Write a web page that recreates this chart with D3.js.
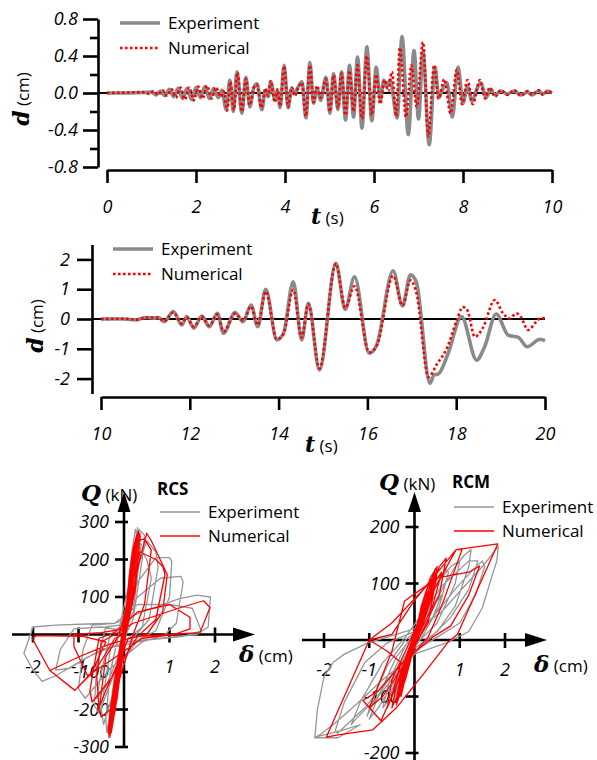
<!DOCTYPE html>
<html>
<head>
<meta charset="utf-8">
<script src="https://cdn.jsdelivr.net/npm/d3@7"></script>
<style>
  body { margin: 0; background: #fff; }
  svg { display: block; }
</style>
</head>
<body>
<svg id="chart" width="597" height="760"></svg>
<script>
// ---------- displacement histories, 0–10 s ----------
const topExperiment = [
  [0,0],[0.4,0],[0.8,0.005],[1.0,0.01],[1.1,-0.02],[1.2,0.02],[1.3,-0.03],[1.4,0.04],[1.5,-0.04],
  [1.6,0.05],[1.7,-0.06],[1.8,0.05],[1.9,-0.07],[2.0,0.06],[2.1,-0.05],[2.2,0.07],[2.3,-0.06],
  [2.4,0.05],[2.5,-0.05],[2.58,0.03],[2.68,-0.18],[2.76,0.14],[2.84,-0.20],[2.92,0.23],[3.03,-0.22],
  [3.12,0.17],[3.21,-0.15],[3.29,0.04],[3.37,0.10],[3.48,-0.18],[3.56,0.03],[3.62,-0.04],[3.68,0.12],
  [3.78,-0.08],[3.83,0.03],[3.89,-0.16],[3.98,0.30],[4.07,-0.16],[4.15,0.05],[4.21,-0.01],[4.28,0.05],
  [4.38,0.12],[4.47,-0.27],[4.56,0.33],[4.64,-0.11],[4.72,0.05],[4.80,-0.08],[4.92,0.17],[5.01,-0.22],
  [5.09,0.21],[5.19,-0.18],[5.27,0.23],[5.36,-0.29],[5.45,0.30],[5.54,-0.26],[5.63,0.39],[5.73,-0.38],
  [5.84,0.50],[5.95,-0.30],[6.05,0.28],[6.14,-0.08],[6.22,0.14],[6.28,0.07],[6.36,0.14],[6.52,-0.27],
  [6.63,0.61],[6.77,-0.45],[6.90,0.46],[7.00,-0.28],[7.10,0.45],[7.24,-0.56],[7.37,0.28],[7.46,-0.05],
  [7.55,0.05],[7.64,0.11],[7.76,-0.26],[7.89,0.28],[8.0,-0.11],[8.1,0.07],[8.2,-0.09],[8.3,0.03],
  [8.4,0.11],[8.52,-0.05],[8.62,0.04],[8.72,-0.02],[8.85,0.02],[9.0,-0.01],[9.15,0.02],[9.3,-0.02],
  [9.45,0.01],[9.55,-0.02],[9.7,0.02],[9.8,-0.01],[9.9,0.02],[10,0]
];
const topNumerical = [
  [0,0],[0.4,0.005],[0.8,0.01],[0.95,-0.01],[1.05,0.02],[1.15,-0.02],[1.25,0.03],[1.35,-0.03],
  [1.45,0.04],[1.55,-0.05],[1.65,0.06],[1.75,-0.07],[1.85,0.06],[1.95,-0.08],[2.05,0.07],[2.15,-0.06],
  [2.25,0.08],[2.35,-0.06],[2.45,0.06],[2.55,-0.04],[2.62,0.02],[2.70,-0.19],[2.77,0.12],[2.85,-0.18],
  [2.93,0.22],[3.03,-0.20],[3.12,0.15],[3.21,-0.13],[3.30,0.06],[3.37,0.09],[3.47,-0.16],[3.56,0.05],
  [3.62,-0.03],[3.68,0.13],[3.77,-0.10],[3.83,0.04],[3.89,-0.14],[3.98,0.29],[4.07,-0.15],[4.15,0.06],
  [4.22,-0.03],[4.30,0.06],[4.38,0.11],[4.47,-0.25],[4.56,0.30],[4.64,-0.10],[4.72,0.08],[4.80,-0.05],
  [4.92,0.15],[5.01,-0.20],[5.09,0.19],[5.19,-0.16],[5.27,0.21],[5.36,-0.24],[5.45,0.24],[5.54,-0.20],
  [5.63,0.30],[5.73,-0.28],[5.84,0.40],[5.95,-0.24],[6.05,0.20],[6.14,-0.12],[6.24,0.14],[6.32,0.02],
  [6.40,0.23],[6.50,-0.25],[6.58,0.49],[6.72,-0.26],[6.84,0.30],[6.96,-0.15],[7.10,0.55],[7.22,-0.47],
  [7.35,0.30],[7.45,-0.06],[7.58,0.15],[7.72,-0.22],[7.86,0.25],[7.98,-0.12],[8.1,0.14],[8.22,-0.12],
  [8.38,0.14],[8.5,-0.06],[8.6,0.06],[8.72,-0.04],[8.85,0.03],[9.0,-0.02],[9.15,0.03],[9.3,-0.03],
  [9.45,0.02],[9.55,-0.02],[9.7,0.03],[9.8,-0.02],[9.9,0.02],[10,0.0]
];
const topTicksY = [-0.8, -0.4, 0, 0.4, 0.8];
const topMinorY = [-0.6, -0.2, 0.2, 0.6];
const topTicksX = [0, 2, 4, 6, 8, 10];

// ---------- displacement histories, 10–20 s ----------
const midExperiment = [
  [10,0],[10.5,0.0],[10.8,-0.03],[11.0,0.05],[11.2,0.03],[11.3,0.05],[11.42,-0.09],[11.63,0.25],
  [11.82,-0.2],[11.93,0.08],[12.09,-0.31],[12.27,0.1],[12.44,-0.26],[12.62,0.19],[12.76,-0.48],
  [13.02,0.22],[13.2,-0.09],[13.38,0.47],[13.53,-0.26],[13.71,1.0],[13.96,-0.7],[14.11,-0.48],
  [14.33,1.25],[14.52,-0.7],[14.67,0.53],[14.92,-1.71],[15.29,1.87],[15.5,0.32],[15.71,1.42],
  [16.04,-1.15],[16.21,-0.87],[16.58,1.62],[16.79,0.44],[16.97,1.48],[17.1,1.25],[17.41,-2.16],
  [17.5,-1.88],[17.6,-1.84],[17.82,-1.15],[18.12,0.08],[18.46,-1.38],[18.64,-0.93],[18.9,0.17],
  [19.17,-0.54],[19.4,-0.62],[19.6,-0.93],[19.89,-0.68],[20,-0.73]
];
const midNumerical = [
  [10,0],[10.5,0.01],[10.8,-0.02],[11.0,0.04],[11.2,0.05],[11.3,0.04],[11.42,-0.08],[11.63,0.22],
  [11.82,-0.15],[11.93,0.06],[12.09,-0.26],[12.27,0.08],[12.44,-0.22],[12.62,0.16],[12.76,-0.42],
  [13.02,0.18],[13.2,-0.05],[13.38,0.42],[13.53,-0.2],[13.71,0.92],[13.96,-0.68],[14.11,-0.5],
  [14.33,0.98],[14.52,-0.62],[14.67,0.5],[14.92,-1.66],[15.29,1.85],[15.5,0.38],[15.71,1.1],
  [16.04,-1.12],[16.21,-0.9],[16.58,1.45],[16.79,0.45],[16.97,1.3],[17.1,0.9],[17.38,-1.95],
  [17.55,-1.55],[17.8,-0.95],[18.0,-0.1],[18.15,0.4],[18.25,0.3],[18.42,-0.6],[18.6,-0.3],
  [18.87,0.64],[19.05,0.2],[19.2,0.02],[19.36,0.19],[19.45,0.08],[19.62,-0.37],[19.8,-0.1],
  [19.9,0.03],[20,0.02]
];
const midTicksY = [-2, -1, 0, 1, 2];
const midTicksX = [10, 12, 14, 16, 18, 20];

// ---------- force–drift loops, RCS specimen ----------
const rcsExperiment = [
  [0,0],[0.03,20],[-0.03,-25],[0.06,50],[-0.06,-55],[0.1,90],[-0.08,-80],[0.14,130],[-0.12,-120],
  [0.18,170],[0.1,60],[-0.15,-150],[-0.1,-70],[0.22,210],[0.15,100],[-0.2,-190],[-0.12,-80],
  [0.27,260],[0.3,285],[0.25,190],[0.05,10],[-0.2,-160],[-0.3,-250],[-0.34,-275],[-0.28,-190],[-0.05,-10],
  [0.2,170],[0.33,280],[0.45,265],[0.4,200],[0.2,40],[0,-10],[-0.25,-180],[-0.38,-260],[-0.4,-225],[-0.3,-100],[-0.1,10],
  [0.25,160],[0.5,250],[0.7,220],[0.75,180],[0.55,40],[0.2,-10],[-0.3,-180],[-0.45,-240],[-0.5,-200],[-0.3,-40],[0,20],
  [0.3,140],[0.7,205],[1.0,205],[1.05,195],[1.0,100],[0.7,10],[0.3,-15],[-0.2,-100],[-0.55,-210],[-0.65,-190],[-0.6,-80],[-0.4,20],[-0.1,25],
  [0.3,100],[0.8,150],[1.25,155],[1.3,140],[1.15,30],[0.9,0],[0.4,-20],[-0.3,-90],[-0.85,-170],[-1.0,-145],[-0.9,-40],[-0.7,25],[-0.2,30],
  [0.4,60],[1.2,95],[1.6,105],[1.9,100],[1.85,20],[1.6,0],[0.8,-10],[0,-20],[-0.8,-60],[-1.5,-110],[-1.8,-125],[-2.0,-95],[-2.2,-50],[-2.0,20],[-1.5,25],[-0.8,28],[-0.2,30],
  [0.3,80],[1.0,80],[1.5,70],[1.7,10],[1.3,-5],[0.5,-15],[-0.5,-40],[-1.2,-90],[-1.5,-95],[-1.4,-40],[-1.1,15],[-0.5,20],[0,10],
  [0.2,100],[0.35,230],[0.25,280],[0.15,200],[0,0],[-0.2,-200],[-0.3,-260],[-0.25,-180],[0,0],
  [0.15,150],[0.28,250],[0.36,262],[0.3,180],[0.1,30],[-0.15,-130],[-0.32,-240],[-0.36,-255],[-0.22,-120],[-0.02,10],
  [0.2,190],[0.3,240],[0.5,200],[0.6,150],[0.4,20],[0,-20],[-0.4,-140],[-0.6,-170],[-0.5,-100],[-0.3,0],[-0.1,20],
  [0.12,140],[0.24,230],[0.18,130],[-0.02,-20],[-0.18,-170],[-0.3,-225],[-0.2,-110],[0.05,40],[0.3,250],[0.38,240],[0.2,60],[0,0]
];
const rcsNumerical = [
  [0,0],[0.05,40],[-0.05,-45],[0.1,100],[-0.1,-100],[0.15,150],[0.1,60],[-0.15,-150],[-0.1,-60],
  [0.2,200],[0.25,250],[0.2,150],[0,0],[-0.2,-190],[-0.25,-240],[-0.2,-140],[0.05,40],
  [0.3,270],[0.35,265],[0.25,120],[0,-20],[-0.28,-230],[-0.31,-274],[-0.27,-180],[0,20],
  [0.3,250],[0.45,255],[0.6,225],[0.45,80],[0.2,0],[-0.3,-200],[-0.5,-220],[-0.55,-203],[-0.4,-60],[-0.1,0],
  [0.35,220],[0.7,200],[0.86,180],[0.9,160],[0.7,40],[0.3,-5],[-0.3,-120],[-0.7,-180],[-0.75,-150],[-0.55,-10],[-0.2,5],
  [0.3,60],[1.0,80],[1.45,46],[1.45,15],[1.1,0],[0.4,-10],[-0.3,-70],[-0.8,-110],[-1.1,-32],[-1.1,0],[-0.5,5],[0,15],
  [0.35,200],[0.5,270],[0.6,250],[0.95,160],[0.85,60],[0.5,0],[0.1,-10],[-0.4,-150],[-0.55,-195],[-0.6,-110],[-0.5,-20],[-0.2,0],
  [0.2,30],[1.2,70],[1.75,90],[1.89,72],[1.67,5],[1.0,0],[0.3,-5],[-0.3,-25],[-1.0,-60],[-1.63,-96],[-1.08,-149],[-0.7,-100],[-0.4,-20],
  [-0.9,-5],[-1.92,-3],[-2.02,-10],[-1.63,-96],[-1.08,-149],[-0.6,-90],[-0.2,-10],[0,0],
  [0.12,160],[0.2,230],[0.28,265],[0.22,180],[0.05,30],[-0.1,-110],[-0.22,-210],[-0.27,-250],[-0.2,-160],[0,10],
  [0.15,180],[0.25,240],[0.18,150],[-0.05,-40],[-0.18,-190],[-0.28,-262],[-0.22,-170],[0.02,20],
  [0.2,220],[0.32,275],[0.26,200],[0.08,40],[-0.12,-140],[-0.25,-230],[-0.3,-265],[-0.24,-170],[-0.02,0],
  [0.1,120],[0.22,235],[0.3,262],[0.2,140],[0,-10],[-0.15,-170],[-0.3,-250],[-0.33,-268],[-0.2,-120],
  [0.05,50],[0.18,200],[0.28,258],[0.35,270],[0.22,120],[0.02,-5],[-0.2,-200],[-0.35,-262],[-0.3,-200],[-0.1,-40],
  [0.1,110],[0.25,250],[0.15,150],[-0.1,-100],[-0.25,-220],[-0.15,-120],[0.08,80],[0.23,245],[0.12,100],
  [-0.08,-90],[-0.22,-215],[-0.1,-60],[0,0]
];
const rcsTicksX = [-2, -1, 1, 2];
const rcsTicksY = [-300, -200, -100, 100, 200, 300];

// ---------- force–drift loops, RCM specimen ----------
const rcmExperiment = [
  [0,0],[0.1,20],[-0.1,-25],[0.2,45],[-0.2,-50],[0.3,70],[0.2,40],[-0.3,-75],[-0.2,-40],
  [0.4,95],[0.5,110],[0.35,60],[0,5],[-0.35,-85],[-0.45,-105],[-0.3,-50],[0,10],
  [0.5,100],[0.7,125],[0.75,120],[0.55,60],[0.2,10],[-0.3,-50],[-0.6,-110],[-0.7,-120],[-0.55,-70],[-0.2,-10],
  [0.4,60],[0.9,130],[1.1,150],[1.25,160],[1.2,130],[0.9,60],[0.5,15],[0,-15],[-0.5,-60],[-0.9,-110],[-1.05,-135],[-0.95,-110],[-0.6,-45],[-0.2,0],
  [0.4,40],[0.9,90],[1.3,125],[1.5,140],[1.55,130],[1.35,80],[1.0,30],[0.5,5],[0,-20],[-0.6,-70],[-1.1,-120],[-1.5,-150],[-1.7,-165],[-1.75,-160],[-1.55,-110],[-1.1,-40],[-0.6,-5],[0,15],
  [0.6,50],[1.1,95],[1.5,130],[1.7,150],[1.85,166],[1.82,140],[1.7,110],[1.5,57],[1.2,15],[0.7,-5],[0,-25],[-0.7,-70],[-1.3,-115],[-1.8,-150],[-2.1,-168],[-2.21,-173],[-1.69,-173],[-1.2,-150],
  [-1.6,-160],[-2.2,-172],[-2.15,-125],[-2.0,-65],[-1.8,-40],[-1.55,-25],[-1.03,-5],[-0.44,9],[0,20],
  [0.3,50],[0.6,80],[0.4,40],[0,0],[-0.3,-60],[-0.5,-90],[-0.3,-40],[0,0],
  [0.2,50],[0.5,100],[0.8,130],[1.0,140],[0.9,100],[0.5,30],[0,-10],[-0.5,-80],[-0.8,-120],[-1.0,-140],[-0.8,-100],[-0.4,-30],[0,10],
  [0.3,60],[0.6,95],[1.2,140],[1.4,140],[1.2,90],[0.8,40],[0.3,0],[-0.2,-40],[-0.8,-100],[-1.3,-140],[-1.4,-150],[-1.2,-110],[-0.7,-40],[-0.2,5],
  [0.2,50],[0.4,80],[0.2,30],[-0.1,-30],[-0.35,-80],[-0.2,-40],[0.1,30],[0.35,85],[0.25,50],[0,0],[-0.25,-65],[-0.4,-95],[-0.25,-45],[0,0]
];
const rcmNumerical = [
  [0,0],[0.1,30],[-0.1,-30],[0.2,55],[-0.2,-55],[0.3,85],[0.2,40],[-0.3,-90],[-0.2,-45],
  [0.4,110],[0.45,125],[0.3,60],[0,0],[-0.35,-100],[-0.4,-115],[-0.25,-45],[0.05,20],
  [0.55,130],[0.7,145],[0.55,80],[0.2,20],[-0.3,-60],[-0.6,-120],[-0.5,-70],[-0.2,-20],
  [0.3,70],[0.92,160],[1.05,160],[0.6,60],[0.3,5],[-0.2,-40],[-0.7,-100],[-1.0,-120],[-0.75,-70],[-0.5,-20],[-0.22,69],
  [0.5,110],[1.2,120],[1.44,131],[1.2,80],[0.8,25],[0.4,5],[-0.2,-35],[-0.8,-90],[-1.14,-107],[-0.74,-143],[-0.5,-100],[-0.3,-40],
  [-0.6,-20],[-1.0,0],[-0.5,10],[0.0,70],[0.92,160],[1.84,170],[0.95,10],[0.73,-5],[0.2,-60],[-0.4,-120],[-0.92,-159],
  [-1.69,-168],[-1.95,-172],[-1.0,0],[-0.5,30],[0.2,90],
  [0.5,120],[0.3,30],[0,-10],[-0.3,-80],[-0.4,-110],[-0.2,-40],[0,0],
  [0.15,60],[0.35,110],[0.5,130],[0.4,80],[0.1,10],[-0.15,-50],[-0.3,-90],[-0.4,-105],[-0.3,-60],[-0.05,0],
  [0.2,60],[0.4,105],[0.3,65],[0,0],[-0.25,-80],[-0.35,-95],[-0.2,-40],[0.1,40],[0.3,95],[0.45,120],[0.35,70],
  [0.05,5],[-0.2,-70],[-0.38,-110],[-0.25,-55],[0,10],[0.25,80],[0.6,120],[0.4,60],[0,-5],[-0.3,-85],[-0.5,-120],
  [-0.4,-80],[-0.1,-10],[0.2,50],[0.35,100],[0.25,55],[-0.05,-15],[-0.3,-100],[-0.2,-50],[0,0]
];
const rcmTicksX = [-2, -1, 1, 2];
const rcmTicksY = [-200, -100, 100, 200];

const seriesNames = ["Experiment", "Numerical"];

// ---------- styling ----------
const SANS = '"Open Sans", "Noto Sans", sans-serif';
const SERIF = '"DejaVu Serif", serif';
const GRAY = "#8a8a8a";
const LOOP_GRAY = "#969696";
const RED = "#ff0000";
const AXIS_W = 2.6;
const TICK_FONT = 18;

const svg = d3.select("#chart");

function styleAxis(g) {
  g.selectAll("path.domain").attr("stroke", "#000").attr("stroke-width", AXIS_W);
  g.selectAll(".tick line").attr("stroke", "#000").attr("stroke-width", AXIS_W);
  g.selectAll(".tick text")
    .attr("fill", "#000")
    .style("font-family", SANS)
    .style("font-style", "italic")
    .style("font-size", TICK_FONT + "px");
}

// composite label: bold italic serif symbol followed by the unit in sans
function symbolLabel(g, x, y, sym, unit, symSize, unitSize, rotate) {
  const t = g.append("text")
    .attr("text-anchor", rotate ? "middle" : "start")
    .attr("transform", rotate ? `translate(${x},${y}) rotate(-90)` : `translate(${x},${y})`);
  t.append("tspan").text(sym)
    .style("font-family", SERIF).style("font-weight", "bold").style("font-style", "italic")
    .style("font-size", symSize + "px");
  t.append("tspan").text(" " + unit)
    .style("font-family", SANS).style("font-size", unitSize + "px");
  return t;
}

function timePanel(cfg) {
  const g = svg.append("g");
  const x = d3.scaleLinear().domain(cfg.xDomain).range(cfg.xRange);
  const y = d3.scaleLinear().domain(cfg.yDomain).range(cfg.yRange);

  // y axis (major + optional minor ticks)
  const ya = g.append("g").attr("transform", `translate(${cfg.yAxisX},0)`)
    .call(d3.axisLeft(y).tickValues(cfg.yTicks).tickSize(15).tickSizeOuter(0)
      .tickPadding(cfg.yPad).tickFormat(cfg.yFormat));
  styleAxis(ya);
  if (cfg.yMinor) {
    const ym = g.append("g").attr("transform", `translate(${cfg.yAxisX},0)`)
      .call(d3.axisLeft(y).tickValues(cfg.yMinor).tickSize(8).tickSizeOuter(0).tickFormat(""));
    styleAxis(ym);
    ym.select("path.domain").remove();
  }

  // detached x axis below
  const xa = g.append("g").attr("transform", `translate(0,${cfg.xAxisY})`)
    .call(d3.axisBottom(x).tickValues(cfg.xTicks).tickSize(13).tickSizeOuter(0).tickPadding(17));
  styleAxis(xa);

  // zero reference line
  g.append("line")
    .attr("x1", cfg.yAxisX).attr("x2", x(cfg.xDomain[1]))
    .attr("y1", y(0)).attr("y2", y(0))
    .attr("stroke", "#000").attr("stroke-width", 2.2);

  const line = d3.line().x(d => x(d[0])).y(d => y(d[1])).curve(d3.curveMonotoneX);
  g.append("path").datum(cfg.exp).attr("d", line)
    .attr("fill", "none").attr("stroke", GRAY).attr("stroke-width", 3.6)
    .attr("stroke-linejoin", "round");
  g.append("path").datum(cfg.num).attr("d", line)
    .attr("fill", "none").attr("stroke", RED).attr("stroke-width", 2.6)
    .attr("stroke-dasharray", "2.6 2.4");

  // legend
  seriesNames.forEach((name, i) => {
    const ly = cfg.legendY + i * 25;
    g.append("line").attr("x1", cfg.legendX).attr("x2", cfg.legendX + 40)
      .attr("y1", ly).attr("y2", ly)
      .attr("stroke", i === 0 ? GRAY : RED)
      .attr("stroke-width", i === 0 ? 3.4 : 2.6)
      .attr("stroke-dasharray", i === 0 ? null : "2.6 2.4");
    g.append("text").attr("x", cfg.legendX + 48).attr("y", ly + 6)
      .text(name).style("font-family", SANS).style("font-size", "17px");
  });

  symbolLabel(g, cfg.yLabel[0], cfg.yLabel[1], "d", "(cm)", 22, 17, true);
  symbolLabel(g, cfg.xLabel[0], cfg.xLabel[1], "t", "(s)", 22, 17, false);
}

timePanel({
  xDomain: [0, 10], xRange: [107, 552],
  yDomain: [-0.8, 0.8], yRange: [167, 19],
  yAxisX: 98, xAxisY: 170,
  yTicks: topTicksY, yMinor: topMinorY, yPad: 5, yFormat: d => d.toFixed(1),
  xTicks: topTicksX,
  exp: topExperiment, num: topNumerical,
  legendX: 120, legendY: 23,
  yLabel: [29, 99], xLabel: [311, 224]
});

timePanel({
  xDomain: [10, 20], xRange: [101, 545],
  yDomain: [-2.5, 2.5], yRange: [393.5, 244.5],
  yAxisX: 92, xAxisY: 397,
  yTicks: midTicksY, yMinor: null, yPad: 7, yFormat: d => String(d),
  xTicks: midTicksX,
  exp: midExperiment, num: midNumerical,
  legendX: 113, legendY: 249,
  yLabel: [43, 326], xLabel: [305, 452]
});

function loopPanel(cfg) {
  const g = svg.append("g");
  const x = d3.scaleLinear().domain([-2, 2]).range(cfg.xRange);
  const y = d3.scaleLinear().domain(cfg.yDomain).range(cfg.yRange);
  const ox = x(0), oy = y(0);

  // tick labels first, so the loops pass over them
  g.selectAll("text.ylab").data(cfg.yTicks).join("text")
    .attr("x", ox - 15).attr("y", d => y(d)).attr("dy", "0.35em")
    .attr("text-anchor", "end").text(d => String(d))
    .style("font-family", SANS).style("font-style", "italic").style("font-size", TICK_FONT + "px");
  g.selectAll("text.xlab").data(cfg.xTicks).join("text")
    .attr("x", d => x(d)).attr("y", oy + cfg.xLabDy)
    .attr("text-anchor", "middle").text(d => String(d))
    .style("font-family", SANS).style("font-style", "italic").style("font-size", TICK_FONT + "px");

  // axes with arrow heads
  g.append("line").attr("x1", cfg.hAxis[0]).attr("x2", cfg.hAxis[1] - 18)
    .attr("y1", oy).attr("y2", oy).attr("stroke", "#000").attr("stroke-width", AXIS_W);
  g.append("path")
    .attr("d", `M${cfg.hAxis[1]},${oy} L${cfg.hAxis[1] - 22},${oy - 7} L${cfg.hAxis[1] - 22},${oy + 7} Z`)
    .attr("fill", "#000");
  g.append("line").attr("x1", ox).attr("x2", ox)
    .attr("y1", cfg.vAxis[0]).attr("y2", cfg.vAxis[1] + 16)
    .attr("stroke", "#000").attr("stroke-width", AXIS_W);
  g.append("path")
    .attr("d", `M${ox},${cfg.vAxis[1]} L${ox - 6.5},${cfg.vAxis[1] + 20} L${ox + 6.5},${cfg.vAxis[1] + 20} Z`)
    .attr("fill", "#000");
  g.selectAll("line.yt").data(cfg.yTicks).join("line")
    .attr("x1", ox - 9).attr("x2", ox + 4).attr("y1", d => y(d)).attr("y2", d => y(d))
    .attr("stroke", "#000").attr("stroke-width", AXIS_W);
  g.selectAll("line.xt").data(cfg.xTicks).join("line")
    .attr("x1", d => x(d)).attr("x2", d => x(d)).attr("y1", oy - 7).attr("y2", oy + 8)
    .attr("stroke", "#000").attr("stroke-width", AXIS_W);

  // hysteresis loops
  const line = d3.line().x(d => x(d[0])).y(d => y(d[1]));
  g.append("path").datum(cfg.exp).attr("d", line)
    .attr("fill", "none").attr("stroke", LOOP_GRAY).attr("stroke-width", 1.3)
    .attr("stroke-linejoin", "round");
  g.append("path").datum(cfg.num).attr("d", line)
    .attr("fill", "none").attr("stroke", RED).attr("stroke-width", 1.3)
    .attr("stroke-linejoin", "round");

  // labels and legend
  symbolLabel(g, cfg.qLabel[0], cfg.qLabel[1], "Q", "(kN)", 23, 17, false);
  symbolLabel(g, cfg.dLabel[0], cfg.dLabel[1], "δ", "(cm)", 23, 17, false);
  g.append("text").attr("x", cfg.title[0]).attr("y", cfg.title[1]).text(cfg.name)
    .style("font-family", SANS).style("font-weight", "bold").style("font-size", "17px");
  seriesNames.forEach((name, i) => {
    const ly = cfg.legendY + i * 24;
    g.append("line").attr("x1", cfg.legendX).attr("x2", cfg.legendX + 40)
      .attr("y1", ly).attr("y2", ly)
      .attr("stroke", i === 0 ? LOOP_GRAY : RED).attr("stroke-width", 1.3);
    g.append("text").attr("x", cfg.legendX + 48).attr("y", ly + 6).text(name)
      .style("font-family", SANS).style("font-size", "17px");
  });
}

loopPanel({
  name: "RCS",
  xRange: [33, 215], yDomain: [-300, 300], yRange: [747, 522],
  hAxis: [12, 255], vAxis: [747, 492],
  xTicks: rcsTicksX, yTicks: rcsTicksY, xLabDy: 38,
  exp: rcsExperiment, num: rcsNumerical,
  qLabel: [81, 501], dLabel: [239, 662], title: [157, 495],
  legendX: 160, legendY: 512
});

loopPanel({
  name: "RCM",
  xRange: [324, 505], yDomain: [-200, 200], yRange: [753, 527],
  hAxis: [302, 547], vAxis: [760, 492],
  xTicks: rcmTicksX, yTicks: rcmTicksY, xLabDy: 36,
  exp: rcmExperiment, num: rcmNumerical,
  qLabel: [379, 490], dLabel: [534, 672], title: [452, 488],
  legendX: 454, legendY: 507
});
</script>
</body>
</html>
